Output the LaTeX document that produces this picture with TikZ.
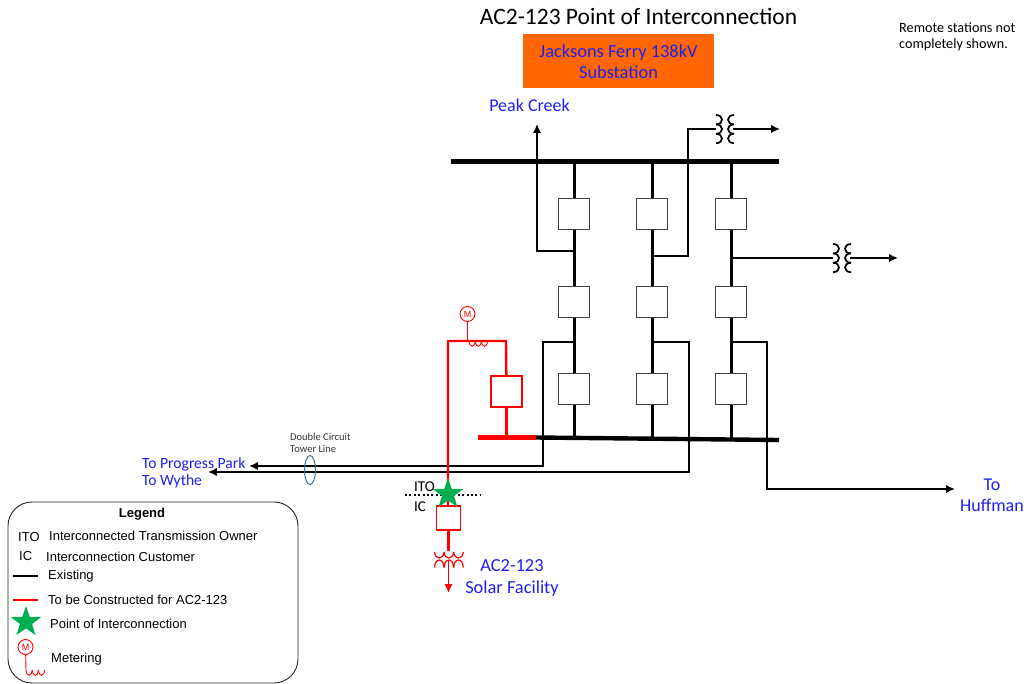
\documentclass[tikz,border=0pt]{standalone}
\usepackage{fontspec}
\setmainfont{Carlito}
\newfontfamily\legfont{Liberation Sans}
\usetikzlibrary{shapes.geometric,arrows.meta}
\definecolor{poigreen}{HTML}{00B050}
\definecolor{subor}{HTML}{FF6600}
\definecolor{lblue}{HTML}{1F1FF0}
\definecolor{towerblue}{HTML}{41719C}
\tikzset{
  >={Latex[length=9pt,width=8.5pt]},
  brk/.style={draw=black!75,fill=white,line width=1.2pt,minimum size=31pt,inner sep=0pt},
  redbrk/.style={draw=red,fill=white,line width=1.4pt,inner sep=0pt},
  busline/.style={line width=4.4pt},
  colline/.style={line width=3pt},
  branch/.style={line width=2.4pt},
  lbl/.style={text=lblue,align=center,inner sep=0pt},
  legtxt/.style={font=\legfont\fontsize{13}{14}\selectfont,anchor=west,inner sep=0pt},
  poistar/.style={star,star points=5,star point ratio=2.5,fill=poigreen,minimum size=32pt,inner sep=0pt},
  meter/.style={circle,draw=red,line width=0.9pt,fill=white,minimum size=15pt,inner sep=0pt,text=red,font=\legfont\fontsize{9}{9}\selectfont},
  xfmr/.pic={
    \foreach \k in {0,1,2} {
      \draw[line width=1.7pt] (-8,{-14+9.4*\k}) .. controls +(8,0) and +(8,0) .. +(0,9.4);
      \draw[line width=1.7pt] (10,{-14+9.4*\k}) .. controls +(-8,0) and +(-8,0) .. +(0,9.4);
    }
  },
}
\newcommand{\humps}[3]{% start x, y, colour: three small cups
  \foreach \k in {0,1,2}
    \draw[#3,line width=0.9pt] ({#1+6.2*\k},#2) .. controls +(0.5,7) and +(-0.5,7) .. +(6.2,0);
}
\begin{document}
\begin{tikzpicture}[x=1pt,y=-1pt]
\useasboundingbox (0,0) rectangle (1027,684);

% title and notes
\node[inner sep=0pt,font=\fontsize{23.5}{26}\selectfont] (title) at (638.5,16) {AC2-123 Point of Interconnection};
\node[inner sep=0pt,align=left,anchor=west,font=\fontsize{14.2}{16}\selectfont] (remote) at (899,37) {Remote stations not\\completely shown.};
\node[fill=subor,minimum width=191pt,minimum height=54pt,inner sep=0pt,text=lblue,align=center,font=\fontsize{18.4}{21.5}\selectfont] (subst) at (618.5,61.5) {Jacksons Ferry 138kV\\Substation};

% breakers
\foreach \c/\x in {1/574,2/652,3/731} {
  \coordinate (top\c) at (\x,161);
  \coordinate (bot\c) at (\x,438.5);
  \node[brk] (a\c) at (\x,214) {};
  \node[brk] (b\c) at (\x,302) {};
  \node[brk] (c\c) at (\x,389) {};
  \draw[colline] (top\c) -- (a\c);
  \draw[colline] (a\c) -- (b\c);
  \draw[colline] (b\c) -- (c\c);
  \draw[colline] (c\c) -- (bot\c);
}

% buses
\coordinate (tbl) at (451,161.5);
\coordinate (tbr) at (779,161.5);
\coordinate (bbr) at (779,440);
\coordinate (bbm) at (536,437.5);
\coordinate (bbl) at (478,437.5);
\draw[busline] (tbl) -- (tbr);
\draw[busline] (bbm) -- (bbr);

% peak creek
\coordinate (pk1) at (574,251);
\coordinate (pk2) at (537,251);
\coordinate (pk3) at (537,124);
\draw[branch,->] (pk1) -- (pk2) -- (pk3);
\node[lbl,font=\fontsize{18}{20}\selectfont] (peak) at (529.5,105.5) {Peak Creek};

% upper transformer
\coordinate (u1) at (652,256);
\coordinate (u2) at (688,256);
\coordinate (u3) at (688,129);
\coordinate (u4) at (716,129);
\coordinate (u5) at (733,129);
\coordinate (u6) at (780,129);
\draw[branch] (u1) -- (u2) -- (u3) -- (u4);
\draw[branch,->] (u5) -- (u6);
\pic at (724,129) {xfmr};

% right transformer
\coordinate (v1) at (731,258);
\coordinate (v2) at (833,258);
\coordinate (v3) at (850,258);
\coordinate (v4) at (898,258);
\draw[branch] (v1) -- (v2);
\draw[line width=1.8pt,->] (v3) -- (v4);
\pic at (841,258) {xfmr};

% lines out
\coordinate (w1) at (574,342);
\coordinate (w2) at (543,342);
\coordinate (w3) at (543,466);
\coordinate (w4) at (249,466);
\draw[branch,->] (w1) -- (w2) -- (w3) -- (w4);
\coordinate (x1) at (652,342);
\coordinate (x2) at (689,342);
\coordinate (x3) at (689,472);
\coordinate (x4) at (208,472);
\draw[branch,->] (x1) -- (x2) -- (x3) -- (x4);
\coordinate (y1) at (731,342);
\coordinate (y2) at (767,342);
\coordinate (y3) at (767,489);
\coordinate (y4) at (955,489);
\draw[branch,->] (y1) -- (y2) -- (y3) -- (y4);

\node[lbl,anchor=west,align=left,font=\fontsize{15.6}{17}\selectfont] (tolines) at (142,472.5) {To Progress Park\\To Wythe};
\node[lbl,font=\fontsize{18}{21}\selectfont] (huff) at (992,495) {To\\Huffman};
\node[draw=towerblue,line width=1pt,ellipse,minimum width=11pt,minimum height=29pt,inner sep=0pt] (tower) at (310,470) {};
\node[inner sep=0pt,align=left,anchor=west,text=black!80,font=\fontsize{10.5}{12}\selectfont] (towertxt) at (290,443) {Double Circuit\\Tower Line};

% new red part
\coordinate (r1) at (448,341);
\coordinate (r2) at (506,341);
\coordinate (r3) at (448,506);
\node[redbrk,minimum size=31pt] (rb1) at (506.5,391.5) {};
\coordinate (r4) at (506.5,437.5);
\draw[red,busline] (bbl) -- (bbm);
\draw[red,line width=2.4pt] (r3) -- (r1) -- (r2) -- (rb1);
\draw[red,colline] (rb1) -- (r4);
\node[redbrk,minimum size=24pt] (rb2) at (448.5,518) {};
\coordinate (r5) at (448.5,551);
\coordinate (r6) at (448.5,560);
\coordinate (r7) at (448.5,593);
\draw[red,colline] (rb2) -- (r5);
\draw[red,line width=1.8pt,->] (r6) -- (r7);
\foreach \k in {0,1,2} {
  \draw[red,line width=1.2pt] ({434.5+9.6*\k},552) .. controls +(0.5,8) and +(-0.5,8) .. +(9.6,0);
  \draw[red,line width=1.2pt] ({434.5+9.6*\k},567.5) .. controls +(0.5,-10) and +(-0.5,-10) .. +(9.6,0);
}

% meter
\node[meter] (mtr) at (467.5,314) {M};
\coordinate (mt) at (467.5,341);
\draw[red,line width=0.9pt] (mtr) -- (mt);
\humps{469}{341}{red}

% point of interconnection
\coordinate (d1) at (405,495);
\coordinate (d2) at (481,495);
\draw[line width=2pt,dash pattern=on 2pt off 2.4pt] (d1) -- (d2);
\node[poistar] (poi) at (448,494) {};
\node[inner sep=0pt,anchor=west,font=\fontsize{15}{16}\selectfont] (ito) at (414,487) {ITO};
\node[inner sep=0pt,anchor=west,font=\fontsize{15}{16}\selectfont] (ic) at (414,507) {IC};
\node[lbl,font=\fontsize{18.4}{22}\selectfont] (solar) at (512,578) {AC2-123\\Solar Facility};

% legend
\node[draw=black!85,line width=0.9pt,rounded corners=24pt,minimum width=290pt,minimum height=181pt,inner sep=0pt] (legbox) at (153,592.5) {};
\node[inner sep=0pt,font=\legfont\bfseries\fontsize{13}{14}\selectfont] (legtitle) at (142,514) {Legend};
\node[legtxt] (l1a) at (18,537) {ITO};
\node[legtxt] (l1b) at (49,536) {Interconnected Transmission Owner};
\node[legtxt] (l2a) at (19,556) {IC};
\node[legtxt] (l2b) at (46,557) {Interconnection Customer};
\coordinate (l3a) at (13,576);
\coordinate (l3b) at (38,576);
\draw[line width=2pt] (l3a) -- (l3b);
\node[legtxt] (l3t) at (48,576.5) {Existing};
\coordinate (l4a) at (13,600);
\coordinate (l4b) at (38,600);
\draw[red,line width=2pt] (l4a) -- (l4b);
\node[legtxt] (l4t) at (48,600) {To be Constructed for AC2-123};
\node[poistar] (l5s) at (26,622) {};
\node[legtxt] (l5t) at (50,624) {Point of Interconnection};
\node[meter] (l6m) at (25.5,647) {M};
\coordinate (l6c) at (26,670);
\draw[red,line width=0.9pt] (l6m) -- (l6c);
\humps{26}{670}{red}
\node[legtxt] (l6t) at (51,659.5) {Metering};
\end{tikzpicture}
\end{document}
